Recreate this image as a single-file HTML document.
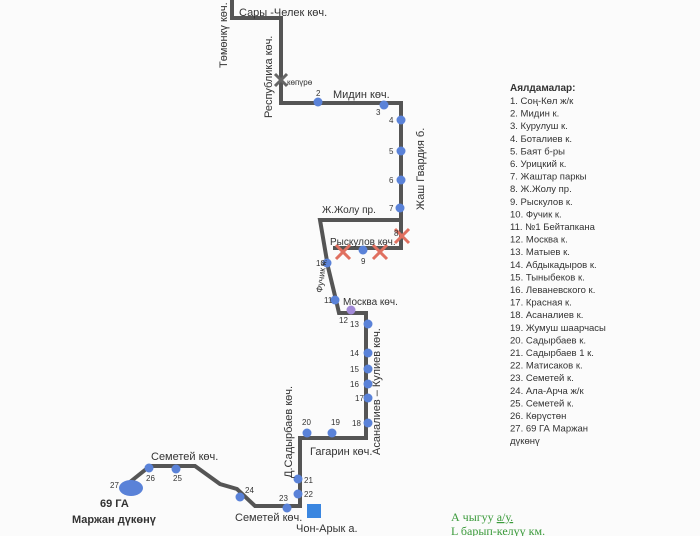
<!DOCTYPE html>
<html><head><meta charset="utf-8"><style>
body{margin:0;background:#fff;}
svg{display:block;font-family:"Liberation Sans",sans-serif;}
</style></head><body>
<svg width="700" height="536" viewBox="0 0 700 536" xmlns="http://www.w3.org/2000/svg">
<rect width="700" height="536" fill="#fbfbfb"/>
<g fill="none" stroke="#555" stroke-width="4" stroke-linejoin="miter">
<polyline points="232,0 232,18 281,18 281,103 401,103 401,248 333,248"/>
<polyline points="401,220 320,220 328,267 336,300 339,313 366,313 366,438 300,438 300,506 255,506 237,489 220,484 195,466 150,466 130,482"/>
</g>
<ellipse cx="131" cy="488" rx="12" ry="8" fill="#5a82d8"/>
<g fill="#5a82d8">
<circle cx="318" cy="102" r="4.5"/><circle cx="384" cy="105" r="4.5"/><circle cx="401" cy="120" r="4.5"/><circle cx="401" cy="151" r="4.5"/><circle cx="401" cy="180" r="4.5"/><circle cx="400" cy="208" r="4.5"/><circle cx="363" cy="250" r="4.5"/><circle cx="327" cy="263" r="4.5"/><circle cx="335" cy="300" r="4.5"/><circle cx="368" cy="324" r="4.5"/><circle cx="368" cy="353" r="4.5"/><circle cx="368" cy="369" r="4.5"/><circle cx="368" cy="384" r="4.5"/><circle cx="368" cy="398" r="4.5"/><circle cx="368" cy="423" r="4.5"/><circle cx="332" cy="433" r="4.5"/><circle cx="307" cy="433" r="4.5"/><circle cx="298" cy="479" r="4.5"/><circle cx="298" cy="494" r="4.5"/><circle cx="287" cy="508" r="4.5"/><circle cx="240" cy="497" r="4.5"/><circle cx="176" cy="469" r="4.5"/><circle cx="149" cy="468" r="4.5"/>
</g>
<circle cx="351" cy="310" r="4.5" fill="#a28ad8"/>
<rect x="307" y="504" width="14" height="14" fill="#3a86e0"/>
<g stroke="#e07060" stroke-width="3">
<path d="M336,245 L350,259 M350,245 L336,259"/><path d="M373,245 L387,259 M387,245 L373,259"/><path d="M395,229 L409,243 M409,229 L395,243"/>
</g>
<path d="M275,74 L287,86 M287,74 L275,86" stroke="#666" stroke-width="3"/>
<g font-size="10" fill="#333">
<text x="239" y="16" font-size="11">Сары -Челек көч.</text>
<text transform="translate(227,68) rotate(-90)" font-size="11">Төмөнкү көч.</text>
<text transform="translate(272,118) rotate(-90)" font-size="11">Республика көч.</text>
<text x="287" y="85" font-size="8">көпүрө</text>
<text x="333" y="98" font-size="11">Мидин көч.</text>
<text transform="translate(424,210) rotate(-90)" font-size="11">Жаш Гвардия б.</text>
<text x="322" y="213">Ж.Жолу пр.</text>
<text x="330" y="245">Рыскулов көч.</text>
<text x="343" y="305">Москва көч.</text>
<text transform="translate(322,293) rotate(-82)" font-size="9">Фучик к.</text>
<text transform="translate(380,455) rotate(-90)" font-size="11">Асаналиев – Кулиев көч.</text>
<text x="310" y="455" font-size="11">Гагарин көч.</text>
<text transform="translate(292,478) rotate(-90)" font-size="11">Д.Садырбаев көч.</text>
<text x="151" y="460" font-size="11">Семетей көч.</text>
<text x="235" y="521" font-size="11">Семетей көч.</text>
<text x="296" y="532" font-size="11">Чон-Арык а.</text>
<text x="100" y="507" font-size="11" font-weight="bold">69 ГА</text>
<text x="72" y="523" font-size="11" font-weight="bold">Маржан дүкөнү</text>
</g>
<g font-size="8" fill="#333">
<text x="316" y="96">2</text><text x="376" y="115">3</text><text x="389" y="123">4</text><text x="389" y="154">5</text><text x="389" y="183">6</text><text x="389" y="211">7</text><text x="394" y="236">8</text><text x="361" y="264">9</text><text x="316" y="266">10</text><text x="324" y="303">11</text><text x="339" y="323">12</text><text x="350" y="327">13</text><text x="350" y="356">14</text><text x="350" y="372">15</text><text x="350" y="387">16</text><text x="355" y="401">17</text><text x="352" y="426">18</text><text x="331" y="425">19</text><text x="302" y="425">20</text><text x="304" y="483">21</text><text x="304" y="497">22</text><text x="279" y="501">23</text><text x="245" y="493">24</text><text x="173" y="481">25</text><text x="146" y="481">26</text><text x="110" y="488">27</text>
</g>
<g font-size="9.5" fill="#333">
<text x="510" y="91" font-weight="bold" font-size="10">Аялдамалар:</text>
<text x="510" y="104">1. Соң-Көл ж/к</text>
<text x="510" y="116.6">2. Мидин к.</text>
<text x="510" y="129.2">3. Курулуш к.</text>
<text x="510" y="141.8">4. Боталиев к.</text>
<text x="510" y="154.4">5. Баят б-ры</text>
<text x="510" y="167">6. Урицкий к.</text>
<text x="510" y="179.6">7. Жаштар паркы</text>
<text x="510" y="192.2">8. Ж.Жолу пр.</text>
<text x="510" y="204.8">9. Рыскулов к.</text>
<text x="510" y="217.4">10. Фучик к.</text>
<text x="510" y="230">11. №1 Бейтапкана</text>
<text x="510" y="242.6">12. Москва к.</text>
<text x="510" y="255.2">13. Матыев к.</text>
<text x="510" y="267.8">14. Абдыкадыров к.</text>
<text x="510" y="280.4">15. Тыныбеков к.</text>
<text x="510" y="293">16. Леваневского к.</text>
<text x="510" y="305.6">17. Красная к.</text>
<text x="510" y="318.2">18. Асаналиев к.</text>
<text x="510" y="330.8">19. Жумуш  шаарчасы</text>
<text x="510" y="343.4">20. Садырбаев к.</text>
<text x="510" y="356">21. Садырбаев 1 к.</text>
<text x="510" y="368.6">22. Матисаков к.</text>
<text x="510" y="381.2">23. Семетей к.</text>
<text x="510" y="393.8">24. Ала-Арча ж/к</text>
<text x="510" y="406.4">25. Семетей к.</text>
<text x="510" y="419">26. Көрүстөн</text>
<text x="510" y="431.6">27. 69 ГА Маржан</text>
<text x="510" y="444">дүкөнү</text>
</g>
<g font-family="Liberation Serif,serif" font-size="12" fill="#3a9a3a">
<text x="451" y="521">А чыгуу <tspan text-decoration="underline">     а/у.</tspan></text>
<text x="451" y="535">L барып-келүү       км.</text>
</g>
</svg>
</body></html>
